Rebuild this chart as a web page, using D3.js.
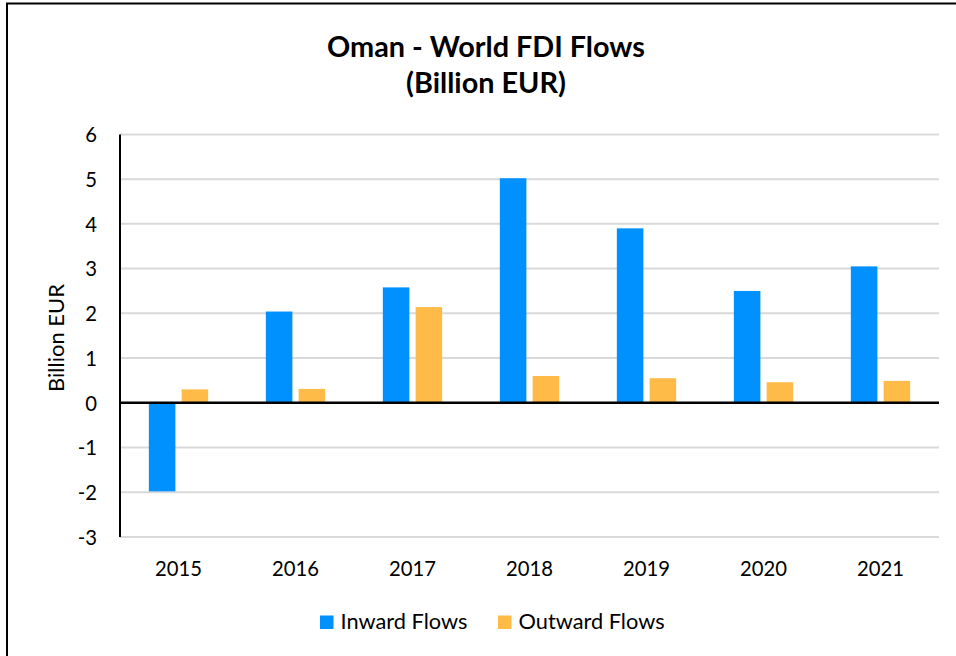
<!DOCTYPE html>
<html>
<head>
<meta charset="utf-8">
<script src="https://cdn.jsdelivr.net/npm/d3@7"></script>
<style>
  html, body { margin: 0; padding: 0; background: #fff; }
  svg { display: block; }
  text { font-family: Lato, "Open Sans", sans-serif; fill: #000; }
</style>
</head>
<body>
<svg id="chart" width="956" height="656"></svg>
<script>
const titleLines = ["Oman - World FDI Flows", "(Billion EUR)"];
const years = ["2015", "2016", "2017", "2018", "2019", "2020", "2021"];
const seriesNames = ["Inward Flows", "Outward Flows"];
const inwardFlows = [-1.98, 2.04, 2.58, 5.02, 3.90, 2.50, 3.05];
const outwardFlows = [0.30, 0.31, 2.14, 0.60, 0.55, 0.46, 0.49];
const yTicks = [-3, -2, -1, 0, 1, 2, 3, 4, 5, 6];
const yAxisTitle = "Billion EUR";
const colors = ["#0091FF", "#FFBB48"];

const seriesValues = [inwardFlows, outwardFlows];

const svg = d3.select("#chart");
const W = 956, H = 656;
const plot = { left: 120, right: 939, top: 134.4, bottom: 537 };

svg.append("rect").attr("x", 0).attr("y", 0).attr("width", W).attr("height", H).attr("fill", "#fff");
// outer chart border (only left/top visible)
svg.append("rect").attr("x", 7).attr("y", 3.5).attr("width", 980).attr("height", 700)
  .attr("fill", "none").attr("stroke", "#000").attr("stroke-width", 2);

// helper: fit a font size so that a sample string matches a target width
function fitSize(sample, target, weight) {
  const t = svg.append("text").attr("font-size", 20).attr("font-weight", weight || "normal").text(sample);
  const w = t.node().getComputedTextLength();
  t.remove();
  return 20 * target / w;
}
const titleSize = fitSize(titleLines[0], 318, "bold");
const tickSize = fitSize("2015", 47);
const legendSize = fitSize("Inward Flows", 127);
const axisTitleSize = fitSize(yAxisTitle, 108);

const y = d3.scaleLinear().domain([yTicks[0], yTicks[yTicks.length - 1]]).range([plot.bottom, plot.top]);
const x0 = d3.scaleBand().domain(years).range([plot.left, plot.right]).paddingInner(0.493).paddingOuter(0.2465);
const x1 = d3.scaleBand().domain(seriesNames).range([0, x0.bandwidth()]).paddingInner(0.19);

// gridlines
svg.append("g").selectAll("line").data(yTicks.filter(d => d !== 0)).join("line")
  .attr("x1", plot.left).attr("x2", plot.right)
  .attr("y1", d => y(d)).attr("y2", d => y(d))
  .attr("stroke", "#D9D9D9").attr("stroke-width", 2);

// bars
const groups = svg.append("g").selectAll("g").data(years).join("g")
  .attr("transform", d => `translate(${x0(d)},0)`);
groups.selectAll("rect").data((d, i) => seriesNames.map((s, k) => ({ s, k, v: seriesValues[k][i] }))).join("rect")
  .attr("x", d => x1(d.s))
  .attr("width", x1.bandwidth())
  .attr("y", d => y(Math.max(0, d.v)))
  .attr("height", d => Math.abs(y(d.v) - y(0)))
  .attr("fill", d => colors[d.k]);

// zero line
svg.append("line").attr("x1", plot.left).attr("x2", plot.right)
  .attr("y1", y(0)).attr("y2", y(0)).attr("stroke", "#000").attr("stroke-width", 2.5);
// y axis line
svg.append("line").attr("x1", plot.left).attr("x2", plot.left)
  .attr("y1", plot.top).attr("y2", plot.bottom).attr("stroke", "#000").attr("stroke-width", 2);

// y tick labels (plain hyphen for negatives, as in the reference)
const yAxis = d3.axisLeft(y).tickValues(yTicks).tickSize(0).tickPadding(0).tickFormat(d => String(d));
const yg = svg.append("g").attr("transform", `translate(97,0)`).call(yAxis);
yg.select(".domain").remove();
yg.selectAll("text").attr("font-size", tickSize).attr("font-family", "Lato, sans-serif")
  .attr("fill", "#000").attr("dy", "0.36em").attr("x", 0);

// x tick labels
const xAxis = d3.axisBottom(x0).tickSize(0).tickPadding(0);
const xg = svg.append("g").attr("transform", `translate(0,576)`).call(xAxis);
xg.select(".domain").remove();
xg.selectAll("text").attr("font-size", tickSize).attr("font-family", "Lato, sans-serif")
  .attr("fill", "#000").attr("dy", 0).attr("y", 0);

// y axis title
svg.append("text").attr("transform", "translate(64,338) rotate(-90)")
  .attr("text-anchor", "middle").attr("font-size", axisTitleSize).text(yAxisTitle);

// title
svg.append("g").selectAll("text").data(titleLines).join("text")
  .attr("x", 486).attr("y", (d, i) => i === 0 ? 57 : 93)
  .attr("text-anchor", "middle").attr("font-weight", "bold").attr("font-size", titleSize)
  .text(d => d);

// legend
const legendItems = [{ name: seriesNames[0], sx: 320, tx: 340.5 }, { name: seriesNames[1], sx: 498, tx: 518.5 }];
const lg = svg.append("g");
legendItems.forEach((it, k) => {
  lg.append("rect").attr("x", it.sx).attr("y", 615.5).attr("width", 13.5).attr("height", 13.5).attr("fill", colors[k]);
  lg.append("text").attr("x", it.tx).attr("y", 629).attr("font-size", legendSize).text(it.name);
});
</script>
</body>
</html>
